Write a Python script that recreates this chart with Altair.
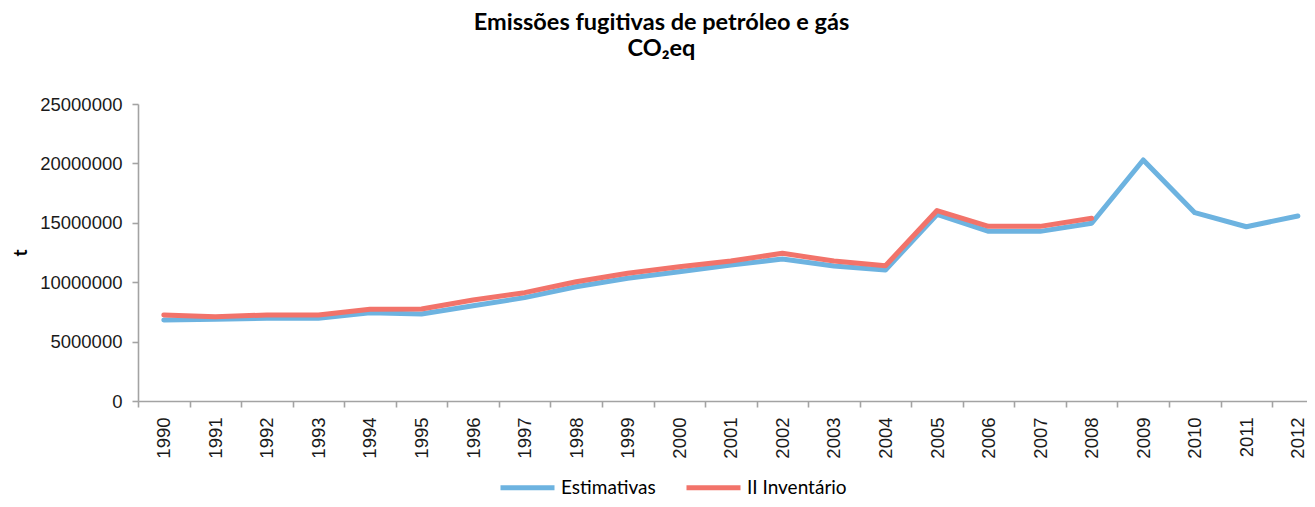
import altair as alt
import pandas as pd

# ---- data ----
years = list(range(1990, 2013))
estimativas = [6820000, 6880000, 6960000, 6960000, 7430000, 7320000, 8020000, 8700000,
               9620000, 10330000, 10880000, 11450000, 11950000, 11360000, 11030000,
               15700000, 14280000, 14280000, 14960000, 20290000, 15850000, 14670000,
               15570000]
inventario_years = list(range(1990, 2009))
inventario = [7240000, 7100000, 7240000, 7240000, 7720000, 7740000, 8500000, 9120000,
              10040000, 10750000, 11300000, 11780000, 12430000, 11780000, 11390000,
              16030000, 14700000, 14700000, 15380000]
series_names = ["Estimativas", "II Inventário"]
series_colors = ["#6DB3E0", "#F2736A"]
y_ticks = [0, 5000000, 10000000, 15000000, 20000000, 25000000]
title_lines = ["Emissões fugitivas de petróleo e gás", "CO₂eq"]

rows = [{"ano": a, "valor": v, "serie": series_names[0], "ordem": 0}
        for a, v in zip(years, estimativas)]
rows += [{"ano": a, "valor": v, "serie": series_names[1], "ordem": 1}
         for a, v in zip(inventario_years, inventario)]
df = pd.DataFrame(rows)

# ---- layout ----
W = 1169
H = 297
step = 51.55
x_max = 1989.5 + W / step
axis_color = "#A3A3A3"

chart = alt.Chart(df).mark_line(
    strokeWidth=5, strokeJoin="round", strokeCap="round"
).encode(
    x=alt.X(
        "ano:Q",
        scale=alt.Scale(domain=[1989.5, x_max], nice=False, zero=False),
        axis=alt.Axis(
            values=years, format="d", title=None, labelAngle=270,
            tickOffset=-step / 2, labelOffset=step / 2,
            labelFlush=False, labelOverlap=False,
            tickSize=6, labelPadding=10,
            labelFont="Liberation Sans", labelFontSize=18.5, labelColor="#1a1a1a",
            domainColor=axis_color, tickColor=axis_color,
            domainWidth=1.6, tickWidth=1.6,
        ),
    ),
    y=alt.Y(
        "valor:Q",
        scale=alt.Scale(domain=[0, 25000000], nice=False),
        axis=alt.Axis(
            values=y_ticks, format="d", title="t",
            titleFont="Lato", titleFontSize=19, titleFontWeight="bold", titleColor="#000",
            titlePadding=9,
            tickSize=6, labelPadding=10,
            labelFont="Liberation Sans", labelFontSize=18.5, labelColor="#1a1a1a",
            domainColor=axis_color, tickColor=axis_color,
            domainWidth=1.6, tickWidth=1.6,
        ),
    ),
    color=alt.Color(
        "serie:N",
        scale=alt.Scale(domain=series_names, range=series_colors),
        legend=alt.Legend(
            title=None, orient="none", legendX=360, legendY=354,
            direction="horizontal", symbolType="stroke", symbolSize=2916,
            symbolStrokeWidth=5, labelFont="Lato", labelFontSize=19,
            labelColor="#000", columnPadding=20, labelOffset=4,
        ),
    ),
    order=alt.Order("ordem:Q"),
).properties(
    width=W,
    height=H,
    title=alt.TitleParams(
        text=title_lines, font="Lato", fontSize=23.5, fontWeight="bold",
        color="#000", anchor="middle", frame="group", dx=-61, offset=35,
        lineHeight=26,
    ),
    autosize=alt.AutoSizeParams(type="none"),
    padding={"left": 130, "top": 96, "right": 0, "bottom": 98},
).configure_view(stroke=None).configure_axis(grid=False)

chart.save("out.html", embed_options={"renderer": "svg", "actions": False})
